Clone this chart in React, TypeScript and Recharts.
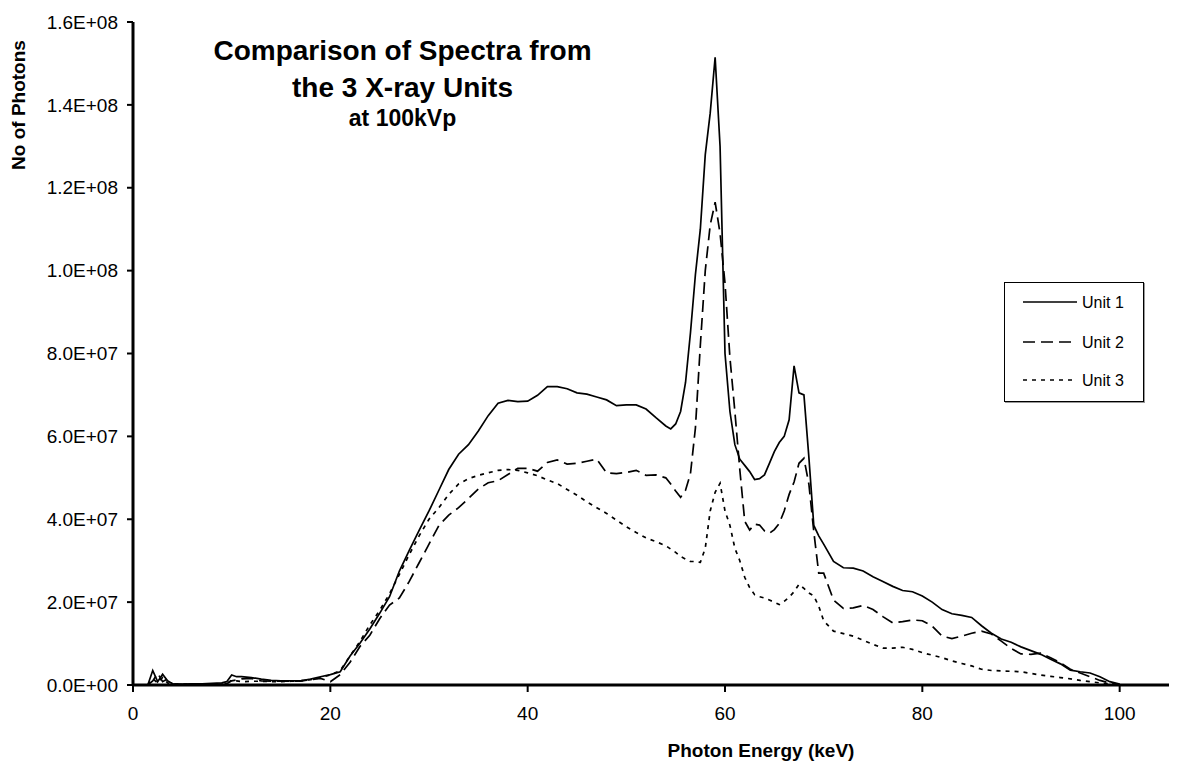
import React from 'react';
import { LineChart, Line, XAxis, YAxis, Legend } from 'recharts';

// Photon energy (keV)
const energies = [
  1.5, 2, 2.5, 3, 3.5, 4, 5, 6, 7, 8, 9, 9.5, 10, 10.5,
  11, 12, 13, 14, 15, 16, 17, 18, 19, 20,
  21, 22, 23, 24, 25, 26, 27, 28, 29, 30,
  31, 32, 33, 34, 35, 36, 37, 38, 39, 40,
  41, 42, 43, 44, 45, 46, 47, 48, 49, 50,
  51, 52, 53, 54,
  54.5, 55, 55.5, 56, 56.5, 57, 57.5, 58, 58.5, 59,
  59.5, 60, 60.5, 61, 61.5, 62, 62.5, 63, 63.5, 64,
  64.5, 65, 65.5, 66, 66.5, 67, 67.5, 68, 68.5, 69,
  69.5, 70,
  71, 72, 73, 74, 75, 76, 77, 78, 79, 80,
  81, 82, 83, 84, 85, 86, 87, 88, 89, 90,
  91, 92, 93, 94, 95, 96, 97, 98, 99, 100,
];

// Number of photons, in millions
const unit1 = [
  0, 3.5, 0.8, 2.6, 1.0, 0.3, 0.2, 0.3, 0.3, 0.4, 0.5, 0.8, 2.4, 2.0,
  2.0, 1.8, 1.4, 1.1, 1.0, 1.0, 1.0, 1.4, 2.0, 2.5,
  3.2, 7.0, 10.1, 13.5, 17.3, 21.3, 27.5, 32.5, 37.3, 42.0,
  47.0, 52.0, 55.7, 58.0, 61.3, 65.0, 68.0, 68.7, 68.4, 68.5,
  69.9, 72.0, 72.0, 71.5, 70.5, 70.2, 69.5, 68.8, 67.4, 67.6,
  67.6, 66.6, 64.5, 62.5,
  61.8, 63.0, 66.0, 73.0, 85.0, 99.0, 110.0, 128.0, 138.0, 151.5,
  130.0, 80.0, 66.0, 58.0, 54.5, 53.0, 51.5, 49.6, 49.8, 50.7,
  53.5, 56.3, 58.5, 60.0, 64.0, 77.0, 70.5, 70.0, 55.0, 38.5,
  36.0, 34.0,
  29.8, 28.3, 28.2, 27.5, 26.1, 25.0, 23.8, 22.8, 22.5, 21.5,
  20.0, 18.2, 17.2, 16.8, 16.3, 14.3, 12.5, 11.1, 10.3, 9.2,
  8.3, 7.4, 6.2, 5.1, 3.6, 3.2, 2.9, 2.0, 0.8, 0.2,
];

const unit2 = [
  0, 1.0, 2.8, 0.8, 1.5, 0.2, 0.1, 0.2, 0.2, 0.2, 0.2, 0.3, 1.0, 1.2,
  1.5, 1.6, 1.0, 0.9, 0.9, 0.9, 1.0, 1.3, 1.6, 0.8,
  2.5, 5.5, 9.3, 12.0, 16.0, 19.3, 21.0, 25.0, 29.5, 34.0,
  38.5, 41.0, 42.8, 45.0, 47.3, 48.8, 49.3, 50.8, 52.3, 52.3,
  51.6, 53.7, 54.3, 53.3, 53.5, 54.0, 54.5, 51.2, 51.0, 51.3,
  51.8, 50.6, 50.7, 50.0,
  48.5, 46.8, 45.3, 47.0, 51.0, 62.0, 82.0, 100.0, 111.0, 116.5,
  109.0, 97.0, 79.0, 66.0, 52.0, 39.5, 37.4, 38.8, 38.6, 37.2,
  36.6, 37.5, 39.0, 42.0, 46.0, 49.0, 53.5, 54.7, 48.5, 37.0,
  27.0, 27.0,
  20.5, 18.5, 18.6, 19.2, 18.2, 16.5, 15.0, 15.3, 15.7, 15.5,
  14.2, 11.8, 11.2, 11.8, 12.5, 13.0, 12.3, 10.6, 8.8, 7.5,
  7.4, 7.7, 6.6, 5.4, 3.8, 2.9, 2.0, 1.1, 0.5, 0.1,
];

const unit3 = [
  0, 1.5, 0.5, 1.8, 0.5, 0.2, 0.2, 0.2, 0.2, 0.2, 0.2, 0.3, 1.2, 1.0,
  0.8, 0.9, 0.9, 0.8, 0.8, 0.9, 1.0, 1.3, 1.8, 2.4,
  3.5, 7.0, 10.5, 14.5, 18.0, 22.0, 26.7, 31.5, 36.0, 40.0,
  42.8, 46.0, 48.5, 49.8, 50.6, 51.2, 51.8, 52.0, 51.8, 51.2,
  50.5, 49.5, 48.6, 47.2, 45.8, 44.2, 42.8, 41.4, 39.8, 38.2,
  36.8, 35.5, 34.6, 33.6,
  32.8, 32.0, 31.0, 30.4, 29.8, 29.8, 29.6, 33.0, 42.0, 46.5,
  48.7, 42.0, 38.5, 33.0, 30.0, 26.0, 23.5, 21.8, 21.3, 21.0,
  20.5, 20.0, 19.4, 20.2, 21.2, 22.5, 24.3, 23.3, 22.2, 21.5,
  19.0, 15.5,
  13.0, 12.4, 11.8, 10.8, 9.8, 8.9, 8.9, 9.1, 8.6, 7.8,
  7.2, 6.6, 5.8, 5.2, 4.6, 3.8, 3.5, 3.4, 3.3, 3.2,
  2.8, 2.4, 2.1, 1.8, 1.5, 1.1, 0.8, 0.5, 0.3, 0.1,
];

const seriesNames = ['Unit 1', 'Unit 2', 'Unit 3'];
const xTicks = [0, 20, 40, 60, 80, 100];
const yTicks = [0, 2e7, 4e7, 6e7, 8e7, 1e8, 1.2e8, 1.4e8, 1.6e8];
const titleLines = ['Comparison of Spectra from', 'the 3 X-ray Units', 'at 100kVp'];

const MILLION = 1e6;
const data = energies.map((e, i) => ({
  e,
  u1: unit1[i] * MILLION,
  u2: unit2[i] * MILLION,
  u3: unit3[i] * MILLION,
}));

const FONT = '"Liberation Sans", Arial, Helvetica, sans-serif';

const dashes: Record<string, string | undefined> = {
  'Unit 1': undefined,
  'Unit 2': '12 6',
  'Unit 3': '4 5',
};

const fmtSci = (v: number) => {
  const [m, ex] = v.toExponential(1).split('e');
  const sign = ex[0];
  const digits = ex.slice(1).padStart(2, '0');
  return `${m}E${sign}${digits}`;
};

const LegendBox = (props: any) => {
  const payload = props.payload || [];
  const rowsY = [19, 59, 97];
  return (
    <div
      style={{
        width: 140,
        height: 120,
        border: '1px solid #000',
        boxSizing: 'border-box',
        background: '#fff',
        boxShadow: '1px 1px 0 #999',
      }}
    >
      <svg width={138} height={118} style={{ display: 'block' }}>
        {payload.map((p: any, i: number) => (
          <g key={p.value}>
            <line
              x1={18}
              x2={72}
              y1={rowsY[i]}
              y2={rowsY[i]}
              stroke="#000"
              strokeWidth={1.7}
              strokeDasharray={dashes[p.value]}
            />
            <text
              x={77}
              y={rowsY[i]}
              dy="0.36em"
              fontFamily={FONT}
              fontSize={16}
              fill="#000"
            >
              {p.value}
            </text>
          </g>
        ))}
      </svg>
    </div>
  );
};

export default function App() {
  return (
    <div style={{ position: 'absolute', left: 0, top: 0, width: 1179, height: 762, background: '#fff' }}>
      <LineChart
        width={1179}
        height={762}
        data={data}
        margin={{ top: 22, right: 10, left: 0, bottom: 0 }}
      >
        <XAxis
          dataKey="e"
          type="number"
          domain={[0, 105]}
          ticks={xTicks}
          interval={0}
          height={77}
          axisLine={{ stroke: '#000', strokeWidth: 3 }}
          tickLine={{ stroke: '#000', strokeWidth: 2 }}
          tickSize={7}
          tickMargin={15}
          tick={{ fill: '#000', fontSize: 19, fontFamily: FONT }}
          allowDataOverflow
        />
        <YAxis
          type="number"
          domain={[0, 1.6e8]}
          ticks={yTicks}
          interval={0}
          width={133}
          axisLine={{ stroke: '#000', strokeWidth: 3 }}
          tickLine={{ stroke: '#000', strokeWidth: 2 }}
          tickSize={6}
          tickMargin={9}
          tickFormatter={fmtSci}
          tick={{ fill: '#000', fontSize: 19, fontFamily: FONT }}
          allowDataOverflow
        />
        <Line
          type="linear"
          dataKey="u1"
          name={seriesNames[0]}
          stroke="#000"
          strokeWidth={1.7}
          dot={false}
          activeDot={false}
          isAnimationActive={false}
        />
        <Line
          type="linear"
          dataKey="u2"
          name={seriesNames[1]}
          stroke="#000"
          strokeWidth={1.7}
          strokeDasharray={dashes[seriesNames[1]]}
          dot={false}
          activeDot={false}
          isAnimationActive={false}
        />
        <Line
          type="linear"
          dataKey="u3"
          name={seriesNames[2]}
          stroke="#000"
          strokeWidth={1.7}
          strokeDasharray={dashes[seriesNames[2]]}
          dot={false}
          activeDot={false}
          isAnimationActive={false}
        />
        <Legend
          layout="vertical"
          align="center"
          verticalAlign="middle"
          content={<LegendBox />}
          wrapperStyle={{ position: 'absolute', left: 1004, top: 282, width: 140, height: 120 }}
        />
        <text x={402.5} y={60} textAnchor="middle" fontFamily={FONT} fontWeight="bold" fontSize={28} fill="#000">
          {titleLines[0]}
        </text>
        <text x={402.5} y={97} textAnchor="middle" fontFamily={FONT} fontWeight="bold" fontSize={28} fill="#000">
          {titleLines[1]}
        </text>
        <text x={402.5} y={126} textAnchor="middle" fontFamily={FONT} fontWeight="bold" fontSize={23} fill="#000">
          {titleLines[2]}
        </text>
        <text
          x={25}
          y={105}
          transform="rotate(-90 25 105)"
          textAnchor="middle"
          fontFamily={FONT}
          fontWeight="bold"
          fontSize={19}
          fill="#000"
        >
          No of Photons
        </text>
        <text x={761} y={757} textAnchor="middle" fontFamily={FONT} fontWeight="bold" fontSize={19} fill="#000">
          Photon Energy (keV)
        </text>
      </LineChart>
    </div>
  );
}
